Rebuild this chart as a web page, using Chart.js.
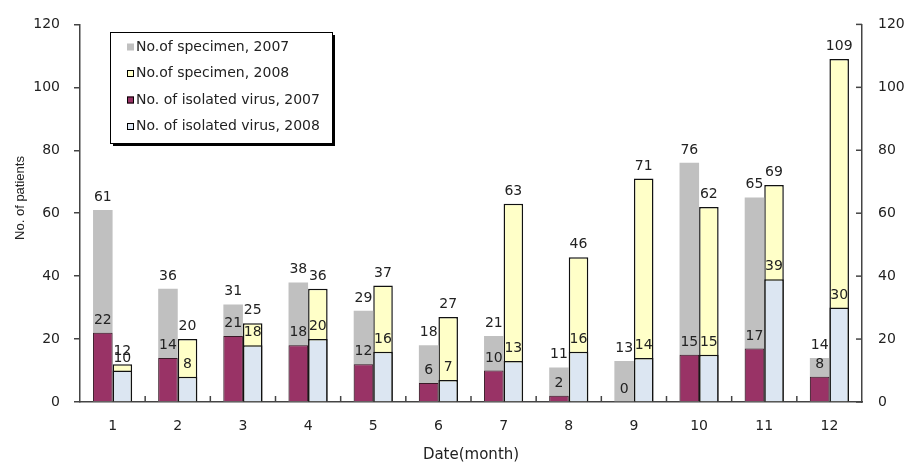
<!DOCTYPE html>
<html>
<head>
<meta charset="utf-8">
<script src="https://cdn.jsdelivr.net/npm/chart.js@4.4.1/dist/chart.umd.min.js"></script>
<style>
  html, body { margin: 0; padding: 0; background: #ffffff; }
  #wrap { width: 908px; height: 467px; }
</style>
</head>
<body>
<div id="wrap"><canvas id="c" width="908" height="467"></canvas></div>
<script>
const months = ['1','2','3','4','5','6','7','8','9','10','11','12'];
const specimen2007 = [61, 36, 31, 38, 29, 18, 21, 11, 13, 76, 65, 14];
const specimen2008 = [12, 20, 25, 36, 37, 27, 63, 46, 71, 62, 69, 109];
const virus2007 = [22, 14, 21, 18, 12, 6, 10, 2, 0, 15, 17, 8];
const virus2008 = [10, 8, 18, 20, 16, 7, 13, 16, 14, 15, 39, 30];
const legendLabels = ['No.of specimen, 2007', 'No.of specimen, 2008', 'No. of isolated virus, 2007', 'No. of isolated virus, 2008'];
const yTicks = [0, 20, 40, 60, 80, 100, 120];

const FONT = 'DejaVu Sans';
const TXT = '#222222';
const AXIS = '#444444';

const colors = {
  s07: '#c0c0c0',
  s08: '#ffffc8',
  v07: '#993366',
  v08: '#dce6f2'
};

const valueLabels = {
  id: 'valueLabels',
  afterDatasetsDraw(chart) {
    const ctx = chart.ctx;
    ctx.save();
    ctx.font = '14px "' + FONT + '"';
    ctx.fillStyle = TXT;
    ctx.textAlign = 'center';
    ctx.textBaseline = 'alphabetic';
    chart.data.datasets.forEach((ds, di) => {
      const meta = chart.getDatasetMeta(di);
      meta.data.forEach((bar, i) => {
        ctx.fillText(String(ds.data[i]), bar.x, bar.y - 9);
      });
    });
    ctx.restore();
  }
};

const extraAxes = {
  id: 'extraAxes',
  afterDraw(chart) {
    const ctx = chart.ctx;
    const x = chart.scales.x;
    const y1 = chart.scales.y1;
    const area = chart.chartArea;
    ctx.save();
    ctx.strokeStyle = AXIS;
    ctx.lineWidth = 1.5;
    // inward x ticks between categories
    for (let k = 1; k < months.length; k++) {
      const px = (x.getPixelForTick(k - 1) + x.getPixelForTick(k)) / 2;
      ctx.beginPath();
      ctx.moveTo(px, area.bottom - 6);
      ctx.lineTo(px, area.bottom);
      ctx.stroke();
    }
    // inward right-axis ticks
    y1.ticks.forEach(t => {
      const py = y1.getPixelForValue(t.value);
      ctx.beginPath();
      ctx.moveTo(area.right - 6, py);
      ctx.lineTo(area.right, py);
      ctx.stroke();
    });
    // y axis title
    ctx.fillStyle = TXT;
    ctx.font = '13px "Liberation Sans"';
    ctx.textAlign = 'center';
    ctx.textBaseline = 'middle';
    ctx.translate(20, 198);
    ctx.rotate(-Math.PI / 2);
    ctx.fillText('No. of patients', 0, 0);
    ctx.restore();

    // legend box
    ctx.save();
    const bx = 110, by = 32, bw = 222, bh = 111;
    ctx.fillStyle = '#000000';
    ctx.fillRect(bx + 3, by + 3, bw, bh);
    ctx.fillStyle = '#ffffff';
    ctx.fillRect(bx, by, bw, bh);
    ctx.strokeStyle = '#000000';
    ctx.lineWidth = 1;
    ctx.strokeRect(bx + 0.5, by + 0.5, bw, bh);
    const fills = [colors.s07, colors.s08, colors.v07, colors.v08];
    const borders = [null, '#000', '#000', '#000'];
    ctx.font = '14px "' + FONT + '"';
    ctx.textAlign = 'left';
    ctx.textBaseline = 'middle';
    for (let i = 0; i < 4; i++) {
      const ry = 47 + i * 26.5;
      ctx.fillStyle = fills[i];
      ctx.fillRect(127, ry - 3.5, 7, 7);
      if (borders[i]) {
        ctx.strokeStyle = borders[i];
        ctx.lineWidth = 1;
        ctx.strokeRect(127.5, ry - 3, 6, 6);
      }
      ctx.fillStyle = TXT;
      ctx.fillText(legendLabels[i], 136, ry);
    }
    ctx.restore();
  }
};

new Chart(document.getElementById('c'), {
  type: 'bar',
  data: {
    labels: months,
    datasets: [
      { label: legendLabels[0], data: specimen2007, stack: '2007', order: 2,
        backgroundColor: colors.s07, borderWidth: 0 },
      { label: legendLabels[1], data: specimen2008, stack: '2008', order: 2,
        backgroundColor: colors.s08, borderColor: '#111', borderWidth: 1.5 },
      { label: legendLabels[2], data: virus2007, stack: '2007', order: 1,
        backgroundColor: colors.v07, borderColor: '#3a1a28', borderWidth: 1 },
      { label: legendLabels[3], data: virus2008, stack: '2008', order: 1,
        backgroundColor: colors.v08, borderColor: '#111', borderWidth: 1.5 }
    ]
  },
  options: {
    responsive: false,
    animation: false,
    devicePixelRatio: 1,
    layout: { padding: { top: 18, left: 0, right: 0, bottom: 0 } },
    categoryPercentage: 0.6,
    barPercentage: 1.0,
    plugins: {
      legend: { display: false },
      tooltip: { enabled: false },
      title: { display: false }
    },
    scales: {
      x: {
        stacked: true,
        grid: { display: false, drawTicks: false },
        border: { display: true, color: AXIS, width: 1.5 },
        ticks: { color: TXT, font: { family: FONT, size: 14 }, padding: 16, maxRotation: 0 },
        title: { display: true, text: 'Date(month)', color: TXT,
                 font: { family: FONT, size: 15 }, padding: { top: 0, bottom: 3 } },
        afterFit(s) { s.height = 65; }
      },
      y: {
        stacked: false,
        position: 'left',
        min: 0, max: 120,
        afterBuildTicks(s) { s.ticks = yTicks.map(v => ({ value: v })); },
        grid: { drawOnChartArea: false, drawTicks: true, tickLength: 6, color: AXIS, lineWidth: 1.5 },
        border: { display: true, color: AXIS, width: 1.5 },
        ticks: { color: TXT, font: { family: FONT, size: 14 }, padding: 14 },
        afterFit(s) { s.width = 80; }
      },
      y1: {
        stacked: false,
        position: 'right',
        min: 0, max: 120,
        afterBuildTicks(s) { s.ticks = yTicks.map(v => ({ value: v })); },
        grid: { drawOnChartArea: false, drawTicks: false },
        border: { display: true, color: AXIS, width: 1.5 },
        ticks: { color: TXT, font: { family: FONT, size: 14 }, padding: 16 },
        afterFit(s) { s.width = 46; }
      }
    }
  },
  plugins: [valueLabels, extraAxes]
});
</script>
</body>
</html>
